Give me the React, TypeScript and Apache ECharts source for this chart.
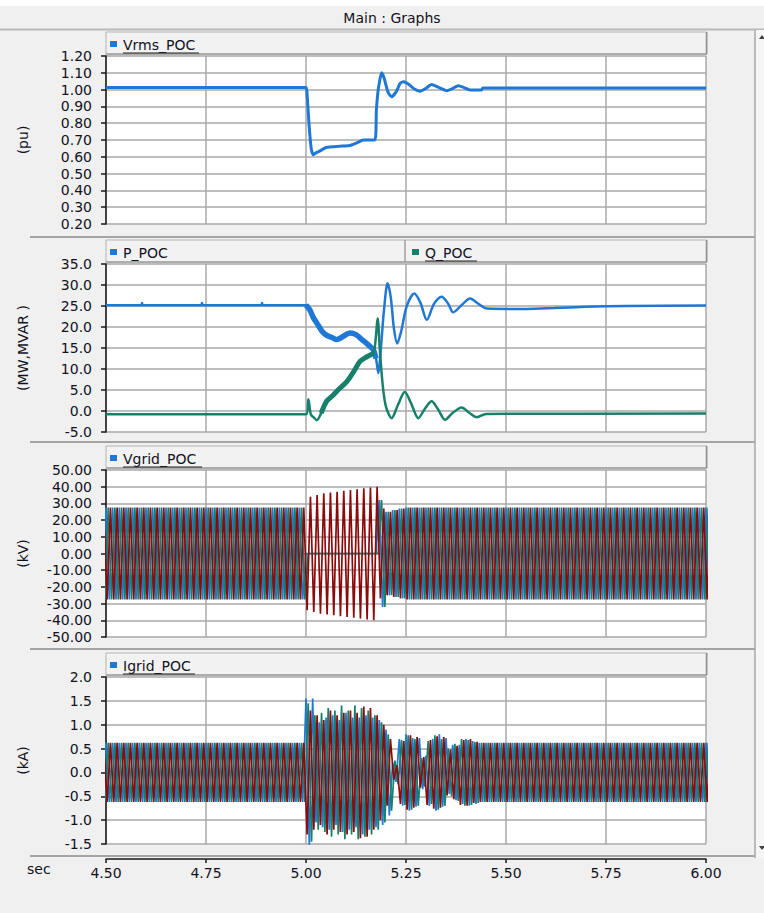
import React, { useEffect, useRef } from "react";
import * as echarts from "echarts";

const FONT = "'DejaVu Sans', Verdana, sans-serif";
const TEXT = "#12121e";
const BLUE = "#1f78d6";
const GREEN = "#17806a";
const RED = "#8c0a0a";
const GRIDLINE = "#a8a8a8";

const X_MIN = 4.5;
const X_MAX = 6.0;
const X_STEP = 0.25;
const FREQ = 60;

const yUnits = ["(pu)", "(MW,MVAR )", "(kV)", "(kA)"];
const yMins = [0.2, -5, -50, -1.5];
const yMaxs = [1.2, 35, 50, 2.0];
const ySteps = [0.1, 5, 10, 0.5];
const yDecimals = [2, 1, 2, 1];

// Vrms_POC (pu)
const vrmsT = [4.5, 5.0, 5.003, 5.008, 5.013, 5.018, 5.024, 5.035, 5.05, 5.07, 5.09, 5.11, 5.128, 5.143, 5.172, 5.176, 5.18, 5.184, 5.189, 5.195, 5.205, 5.214, 5.225, 5.235, 5.243, 5.255, 5.27, 5.285, 5.3, 5.314, 5.33, 5.352, 5.365, 5.381, 5.395, 5.41, 5.439, 5.442, 6.0];
const vrmsV = [1.012, 1.012, 0.96, 0.78, 0.65, 0.612, 0.622, 0.635, 0.655, 0.66, 0.664, 0.667, 0.684, 0.7, 0.7, 0.88, 0.99, 1.05, 1.1, 1.07, 0.985, 0.958, 0.985, 1.035, 1.047, 1.035, 1.005, 0.99, 1.008, 1.03, 1.015, 0.993, 1.005, 1.023, 1.012, 0.998, 0.998, 1.01, 1.01];

// P_POC (MW)
const pT = [4.5, 4.588, 4.59, 4.592, 4.738, 4.74, 4.742, 4.888, 4.89, 4.892, 5.0, 5.01, 5.018, 5.03, 5.04, 5.052, 5.065, 5.077, 5.09, 5.1, 5.11, 5.125, 5.14, 5.155, 5.168, 5.175, 5.181, 5.186, 5.195, 5.204, 5.212, 5.22, 5.228, 5.238, 5.252, 5.271, 5.286, 5.302, 5.32, 5.339, 5.355, 5.368, 5.39, 5.41, 5.43, 5.452, 5.55, 5.62, 5.7, 5.8, 6.0];
const pV = [25.2, 25.2, 25.7, 25.2, 25.2, 25.7, 25.2, 25.2, 25.7, 25.2, 25.2, 24.0, 22.3, 20.5, 19.0, 18.0, 17.5, 17.0, 17.6, 18.2, 18.6, 18.2, 17.0, 15.8, 14.6, 12.5, 9.0, 13.5, 24.0, 30.4, 27.0, 19.5, 16.1, 19.0, 25.0, 28.0, 25.8, 21.7, 25.5, 27.2, 25.6, 23.5, 25.3, 26.8, 25.6, 24.4, 24.3, 24.5, 24.8, 25.0, 25.1];

// Q_POC (MVAR)
const qT = [4.5, 5.0, 5.006, 5.012, 5.02, 5.027, 5.038, 5.052, 5.065, 5.08, 5.102, 5.12, 5.135, 5.15, 5.168, 5.174, 5.179, 5.185, 5.192, 5.2, 5.214, 5.23, 5.247, 5.262, 5.281, 5.297, 5.314, 5.33, 5.348, 5.365, 5.389, 5.408, 5.427, 5.45, 6.0];
const qV = [-0.8, -0.8, 2.8, -0.8, -1.6, -2.2, -0.5, 2.4, 3.5, 5.0, 7.0, 9.5, 11.8, 12.8, 13.7, 17.0, 22.1, 14.0, 6.0, 1.0, -1.7, 1.5, 4.5, 2.0, -1.7, 0.5, 2.3, 0.4, -2.1, -0.6, 0.85, -0.4, -1.5, -0.7, -0.6];

// Vgrid_POC (kV): per-cycle peak amplitude of each phase, from cycle index VG_START
const VG_STEADY = 27.5;
const VG_START = 29;
const vgridA = [27.5, 0, 0, 0, 0, 0, 0, 0, 0, 0, 0, 0, 32, 25, 26, 27];
const vgridB = [27.5, 0, 0, 0, 0, 0, 0, 0, 0, 0, 0, 0, 32, 25, 26, 27];
const vgridC = [27.5, 34, 35, 36, 36.5, 37, 37.5, 38, 38.5, 39, 39.5, 40, 27, 25, 26, 27];

// Igrid_POC (kA): per-cycle peak amplitude of each phase, from cycle index IG_START
const IG_STEADY = 0.62;
const IG_START = 29;
const igridA = [0.62, 1.55, 1.05, 1.15, 1.2, 1.1, 1.25, 1.2, 1.15, 1.3, 1.2, 1.15, 1.1, 0.9, 0.2, 0.7, 0.8, 0.72, 0.35, 0.7, 0.8, 0.72, 0.45, 0.58, 0.66, 0.7, 0.66, 0.62];
const igridB = [0.62, 1.45, 1.2, 1.25, 1.35, 1.3, 1.4, 1.3, 1.4, 1.35, 1.3, 1.2, 1.05, 0.8, 0.25, 0.68, 0.78, 0.7, 0.3, 0.66, 0.78, 0.7, 0.5, 0.6, 0.7, 0.68, 0.64, 0.62];
const igridC = [0.62, 1.3, 1.2, 1.1, 1.3, 1.2, 1.25, 1.3, 1.25, 1.38, 1.35, 1.2, 1.0, 0.7, 0.15, 0.66, 0.78, 0.74, 0.32, 0.68, 0.76, 0.74, 0.48, 0.56, 0.68, 0.7, 0.64, 0.62];

const pairs = (t: number[], v: number[]) => t.map((x, i) => [x, v[i]]);
const between = (t: number[], v: number[], a: number, b: number) =>
  pairs(t, v).filter((p) => p[0] >= a && p[0] <= b);

// half-cycle peaks of a phase whose amplitude is given cycle by cycle
function phasePeaks(amps: number[], start: number, steady: number, shift: number) {
  const pts: number[][] = [];
  const nHalf = Math.round((X_MAX - X_MIN) * FREQ * 2);
  for (let h = -2; h <= nHalf + 2; h++) {
    const t = X_MIN + (h / 2 + shift) / FREQ;
    const k = Math.floor((t - X_MIN) * FREQ);
    const idx = k - start;
    const a = idx >= 0 && idx < amps.length ? amps[idx] : steady;
    pts.push([t, (Math.abs(h) % 2 === 0 ? 1 : -1) * a]);
  }
  return pts;
}

function buildOption() {
  const tops = [56, 264, 470, 677];
  const heights = [168, 168, 167, 167];
  const grid = tops.map((top, i) => ({
    left: 106,
    top,
    width: 600,
    height: heights[i],
    show: true,
    backgroundColor: "#ffffff",
    borderWidth: 0,
  }));
  const xAxis = tops.map((_, i) => ({
    type: "value",
    gridIndex: i,
    min: X_MIN,
    max: X_MAX,
    interval: X_STEP,
    offset: i === 3 ? 15 : 0,
    axisLine: { show: i === 3, onZero: false, lineStyle: { color: "#1a1a1a", width: 1.5 } },
    axisTick: { show: i === 3, length: 4, lineStyle: { color: "#1a1a1a", width: 1.5 } },
    axisLabel: {
      show: i === 3,
      margin: 7,
      fontSize: 14,
      fontFamily: FONT,
      color: TEXT,
      formatter: (v: number) => v.toFixed(2),
    },
    splitLine: { show: true, lineStyle: { color: GRIDLINE, width: 1.5 } },
  }));
  const yAxis = tops.map((_, i) => ({
    type: "value",
    gridIndex: i,
    min: yMins[i],
    max: yMaxs[i],
    interval: ySteps[i],
    name: yUnits[i],
    nameLocation: "middle",
    nameRotate: 90,
    nameGap: 76,
    nameTextStyle: { fontSize: 14, fontFamily: FONT, color: TEXT },
    axisLine: { show: true, onZero: false, lineStyle: { color: "#1a1a1a", width: 1.5 } },
    axisTick: { show: true, length: 5, lineStyle: { color: "#1a1a1a", width: 1.5 } },
    axisLabel: {
      margin: 14,
      fontSize: 14,
      fontFamily: FONT,
      color: TEXT,
      formatter: (v: number) => v.toFixed(yDecimals[i]),
    },
    splitLine: { show: true, lineStyle: { color: GRIDLINE, width: 1.5 } },
  }));

  const line = (name: string, xi: number, data: number[][], color: string, width: number, smooth: number = 0) => ({
    name,
    type: "line",
    xAxisIndex: xi,
    yAxisIndex: xi,
    data,
    showSymbol: false,
    symbol: "none",
    silent: true,
    smooth: smooth > 0 ? smooth : false,
    lineStyle: { color, width },
    itemStyle: { color },
  });

  const series = [
    line("Vrms_POC", 0, pairs(vrmsT, vrmsV), BLUE, 3, 0.2),
    line("P_POC", 1, pairs(pT, pV), BLUE, 2.5, 0.3),
    line("P_POC band", 1, between(pT, pV, 5.0, 5.176), BLUE, 5.5, 0.3),
    line("Q_POC", 1, pairs(qT, qV), GREEN, 2.5, 0.3),
    line("Q_POC band", 1, between(qT, qV, 5.03, 5.17), GREEN, 5, 0.3),
    line("Vgrid_POC a", 2, phasePeaks(vgridA, VG_START, VG_STEADY, 0), BLUE, 1.7),
    line("Vgrid_POC b", 2, phasePeaks(vgridB, VG_START, VG_STEADY, 1 / 3), GREEN, 1.7),
    line("Vgrid_POC c", 2, phasePeaks(vgridC, VG_START, VG_STEADY, 2 / 3), RED, 1.7),
    line("Igrid_POC a", 3, phasePeaks(igridA, IG_START, IG_STEADY, 0), BLUE, 1.7),
    line("Igrid_POC b", 3, phasePeaks(igridB, IG_START, IG_STEADY, 1 / 3), GREEN, 1.7),
    line("Igrid_POC c", 3, phasePeaks(igridC, IG_START, IG_STEADY, 2 / 3), RED, 1.7),
  ];

  const g: any[] = [];
  g.push({ type: "rect", silent: true, shape: { x: 0, y: 0, width: 764, height: 6 }, style: { fill: "#ffffff" } });
  g.push({ type: "line", silent: true, shape: { x1: 0, y1: 29.5, x2: 764, y2: 29.5 }, style: { stroke: "#b8b8b8", lineWidth: 2 } });
  g.push({
    type: "text", silent: true, x: 392, y: 18,
    style: { text: "Main : Graphs", font: `14px ${FONT}`, fill: TEXT, align: "center", verticalAlign: "middle" },
  });

  // panel separators
  [237, 442, 649, 856].forEach((y) =>
    g.push({ type: "line", silent: true, shape: { x1: 30, y1: y, x2: 755, y2: y }, style: { stroke: "#a4a4a4", lineWidth: 2 } })
  );

  // legend bars
  const legendBar = (y: number, h: number, items: { name: string; color: string; x: number; ul: number }[], split?: number) => {
    g.push({ type: "rect", silent: true, shape: { x: 106, y, width: 601, height: h }, style: { fill: "#f2f2f2", stroke: "#b4b4b4", lineWidth: 1 } });
    g.push({ type: "line", silent: true, shape: { x1: 106, y1: y + h, x2: 707, y2: y + h }, style: { stroke: "#a0a0a0", lineWidth: 1.5 } });
    g.push({ type: "line", silent: true, shape: { x1: 706.5, y1: y, x2: 706.5, y2: y + h }, style: { stroke: "#909090", lineWidth: 1.5 } });
    if (split) {
      g.push({ type: "line", silent: true, shape: { x1: split, y1: y, x2: split, y2: y + h }, style: { stroke: "#a0a0a0", lineWidth: 1.5 } });
    }
    const cy = y + h / 2 + 2;
    items.forEach((it) => {
      g.push({ type: "rect", silent: true, shape: { x: it.x - 13, y: cy - 4, width: 7, height: 6 }, style: { fill: it.color } });
      g.push({
        type: "text", silent: true, x: it.x, y: cy,
        style: { text: it.name, font: `14px ${FONT}`, fill: TEXT, align: "left", verticalAlign: "middle" },
      });
      if (it.ul > 0) {
        g.push({ type: "line", silent: true, shape: { x1: it.x, y1: cy + 8, x2: it.x + it.ul, y2: cy + 8 }, style: { stroke: "#202020", lineWidth: 1.2 } });
      }
    });
  };
  legendBar(32, 22, [{ name: "Vrms_POC", color: BLUE, x: 123, ul: 76 }]);
  legendBar(240, 22, [
    { name: "P_POC", color: BLUE, x: 123, ul: 0 },
    { name: "Q_POC", color: GREEN, x: 425, ul: 52 },
  ], 405);
  legendBar(446, 22, [{ name: "Vgrid_POC", color: BLUE, x: 123, ul: 79 }]);
  legendBar(653, 22, [{ name: "Igrid_POC", color: BLUE, x: 123, ul: 72 }]);

  // x axis unit
  g.push({
    type: "text", silent: true, x: 27, y: 869,
    style: { text: "sec", font: `14px ${FONT}`, fill: TEXT, align: "left", verticalAlign: "middle" },
  });

  // scrollbar
  g.push({ type: "rect", silent: true, shape: { x: 755, y: 30, width: 9, height: 828 }, style: { fill: "#f6f6f6" } });
  g.push({ type: "line", silent: true, shape: { x1: 755, y1: 30, x2: 755, y2: 858 }, style: { stroke: "#a8a8a8", lineWidth: 1.5 } });
  g.push({ type: "polygon", silent: true, shape: { points: [[759, 39], [762, 35], [765, 39]] }, style: { fill: "#404040" } });
  g.push({ type: "polygon", silent: true, shape: { points: [[759, 846], [762, 850], [765, 846]] }, style: { fill: "#404040" } });

  return {
    backgroundColor: "#f0f0f0",
    animation: false,
    textStyle: { fontFamily: FONT },
    grid,
    xAxis,
    yAxis,
    series,
    graphic: g,
  };
}

export default function App() {
  const ref = useRef<HTMLDivElement>(null);
  useEffect(() => {
    if (!ref.current) return;
    const chart = echarts.init(ref.current, undefined, { renderer: "svg" });
    chart.setOption(buildOption() as any);
    return () => chart.dispose();
  }, []);
  return (
    <div
      ref={ref}
      style={{ position: "fixed", left: 0, top: 0, width: 764, height: 913 }}
    />
  );
}
